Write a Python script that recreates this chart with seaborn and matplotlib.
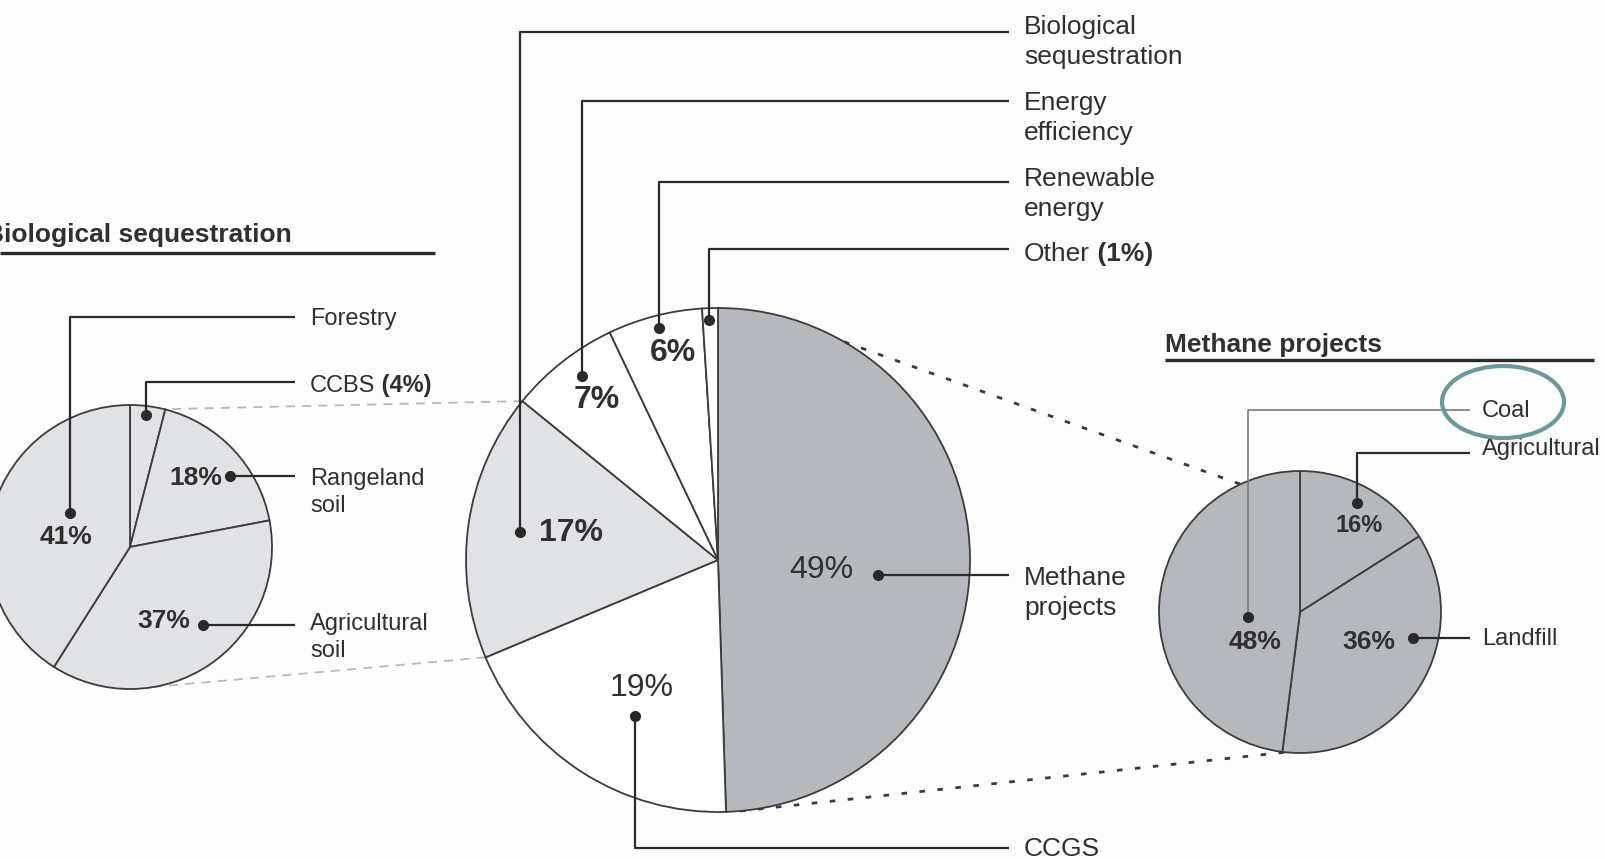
import matplotlib
matplotlib.use("Agg")
import matplotlib.pyplot as plt
from matplotlib.patches import Ellipse
import numpy as np
import seaborn as sns

# ---- data -------------------------------------------------------------
main_labels = ["Methane\nprojects", "CCGS", "Biological\nsequestration",
               "Energy\nefficiency", "Renewable\nenergy", "Other"]
main_values = [49, 19, 17, 7, 6, 1]

bio_labels = ["CCBS", "Rangeland\nsoil", "Agricultural\nsoil", "Forestry"]
bio_values = [4, 18, 37, 41]

methane_labels = ["Agricultural", "Landfill", "Coal"]
methane_values = [16, 36, 48]

# ---- style ------------------------------------------------------------
sns.set_theme(style="white")
plt.rcParams["font.family"] = ["Liberation Sans", "DejaVu Sans"]

W, H = 1606, 859
INK = "#2a2a2a"
TXT = "#303030"
EDGE = "#3c3c3c"
DARK = "#b5b8bc"
LIGHT = "#e0e2e6"
BG = "#fdfdfd"

fig = plt.figure(figsize=(W / 100, H / 100), dpi=100, facecolor=BG)
ax = fig.add_axes([0, 0, 1, 1])
ax.set_facecolor(BG)


def P(x, y):
    """Pixel position measured from the top-left corner -> data coords."""
    return x, H - y


def on_rim(c, r, theta_deg):
    """Point on a pie rim, angle measured clockwise from 12 o'clock."""
    t = np.deg2rad(theta_deg)
    return c[0] + r * np.sin(t), c[1] - r * np.cos(t)


def boundary_angle(values, k):
    """Clockwise angle (deg) at the end of the k-th wedge."""
    v = np.asarray(values, float)
    return 360.0 * v[: k + 1].sum() / v.sum()


wedge_kw = dict(edgecolor=EDGE, linewidth=1.3)

# ---- pies -------------------------------------------------------------
C_MAIN, R_MAIN = (718, 560), 252
C_BIO, R_BIO = (130, 547), 142
C_MET, R_MET = (1300, 612), 141

ax.pie(main_values, colors=[DARK, "white", LIGHT, "white", "white", "white"],
       startangle=90, counterclock=False, center=P(*C_MAIN), radius=R_MAIN,
       wedgeprops=wedge_kw)
ax.pie(bio_values, colors=[LIGHT] * len(bio_values),
       startangle=90, counterclock=False, center=P(*C_BIO), radius=R_BIO,
       wedgeprops=wedge_kw)
ax.pie(methane_values, colors=[DARK] * len(methane_values),
       startangle=90, counterclock=False, center=P(*C_MET), radius=R_MET,
       wedgeprops=wedge_kw)

# ---- connectors between the pies -------------------------------------
# biological sequestration wedge -> left breakdown pie
a_top = boundary_angle(main_values, 2)
a_bot = boundary_angle(main_values, 1)
for src, dst in [(on_rim(C_MAIN, R_MAIN, a_top), on_rim(C_BIO, R_BIO, 14)),
                 (on_rim(C_MAIN, R_MAIN, a_bot), on_rim(C_BIO, R_BIO, 170))]:
    xs, ys = zip(P(*src), P(*dst))
    ax.plot(xs, ys, color="#b8b8b8", lw=1.3, ls=(0, (5, 4)), zorder=0)

# methane wedge -> right breakdown pie
for src, dst in [(on_rim(C_MAIN, R_MAIN, 30), on_rim(C_MET, R_MET, -25)),
                 (on_rim(C_MAIN, R_MAIN, 175), on_rim(C_MET, R_MET, 186))]:
    xs, ys = zip(P(*src), P(*dst))
    ax.plot(xs, ys, color="#3a3a3a", lw=2.0, ls=(0, (2, 4.5)), zorder=0)


# ---- helpers for leader lines ----------------------------------------
def dot(x, y):
    ax.plot(*P(x, y), "o", ms=7, color=INK, zorder=5)


def seg(pts, color=INK, lw=1.6):
    xs, ys = zip(*[P(*p) for p in pts])
    ax.plot(xs, ys, color=color, lw=lw, solid_capstyle="butt", zorder=4)


def label(x, base, s, size=19, gap=30, **kw):
    """Write a (possibly multi-line) label; base is the first line's baseline."""
    first = None
    for i, line in enumerate(s.split("\n")):
        t = ax.text(*P(x, base + i * gap), line, fontsize=size, color=TXT,
                    va="baseline", ha="left", **kw)
        first = first or t
    return first


def pct(x, y, v, size=23, weight="normal", ha="center"):
    ax.text(*P(x, y), f"{v}%", fontsize=size, color=TXT, fontweight=weight,
            ha=ha, va="center", zorder=6)


# ---- main pie annotations --------------------------------------------
XL, XT = 1009, 1024
# biological sequestration
seg([(520, 532), (520, 32), (XL, 32)])
dot(520, 532)
pct(539, 533, main_values[2], weight="bold", ha="left")
label(XT, 34, main_labels[2])
# energy efficiency
seg([(582, 376), (582, 101), (XL, 101)])
dot(582, 376)
pct(597, 400, main_values[3], weight="bold")
label(XT, 110, main_labels[3])
# renewable energy
seg([(659, 328), (659, 182), (XL, 182)])
dot(659, 328)
pct(673, 353, main_values[4], weight="bold")
label(XT, 186, main_labels[4])
# other
seg([(709, 320), (709, 249), (XL, 249)])
dot(709, 320)
t_other = label(XT, 261, main_labels[5])
ax.annotate(f" ({main_values[5]}%)", xy=(1, 0), xycoords=t_other,
            fontsize=19, fontweight="bold", color=TXT, va="bottom", ha="left")
# methane projects
seg([(878, 575), (XL, 575)])
dot(878, 575)
pct(821, 570, main_values[0])
label(XT, 585, main_labels[0])
# CCGS
seg([(635, 716), (635, 848), (XL, 848)])
dot(635, 716)
pct(642, 688, main_values[1])
label(XT, 856, main_labels[1])

# ---- biological sequestration breakdown ------------------------------
ax.text(*P(-15, 242), "Biological sequestration", fontsize=19,
        fontweight="bold", color=TXT, va="baseline", ha="left")
seg([(0, 253), (435, 253)], lw=2.4)

BL, BT = 295, 310
# forestry
seg([(70, 513), (70, 317), (BL, 317)])
dot(70, 513)
pct(66, 537, bio_values[3], size=19, weight="bold")
label(BT, 325, bio_labels[3], size=17)
# CCBS
seg([(146, 415), (146, 382), (BL, 382)])
dot(146, 415)
t_ccbs = label(BT, 392, bio_labels[0], size=17)
ax.annotate(f" ({bio_values[0]}%)", xy=(1, 0), xycoords=t_ccbs,
            fontsize=17, fontweight="bold", color=TXT, va="bottom", ha="left")
# rangeland soil
seg([(230, 476), (BL, 476)])
dot(230, 476)
pct(196, 478, bio_values[1], size=19, weight="bold")
label(BT, 485, bio_labels[1], size=17, gap=27)
# agricultural soil
seg([(203, 625), (BL, 625)])
dot(203, 625)
pct(164, 621, bio_values[2], size=19, weight="bold")
label(BT, 630, bio_labels[2], size=17, gap=27)

# ---- methane projects breakdown --------------------------------------
ax.text(*P(1165, 352), "Methane projects", fontsize=19, fontweight="bold",
        color=TXT, va="baseline", ha="left")
seg([(1165, 360), (1594, 360)], lw=2.4)

ML, MT = 1470, 1482
# coal
seg([(1248, 617), (1248, 410), (ML, 410)], color="#7a7a7a", lw=1.2)
dot(1248, 617)
pct(1255, 642, methane_values[2], size=19, weight="bold")
label(MT, 417, methane_labels[2], size=17)
ax.add_patch(Ellipse(P(1503, 402), 122, 72, fill=False,
                     edgecolor="#6b9999", lw=3.0, zorder=7))
# agricultural
seg([(1357, 503), (1357, 453), (ML, 453)])
dot(1357, 503)
pct(1359, 525, methane_values[0], size=17, weight="bold")
label(MT, 455, methane_labels[0], size=17)
# landfill
seg([(1413, 638), (ML, 638)])
dot(1413, 638)
pct(1369, 642, methane_values[1], size=19, weight="bold")
label(MT, 645, methane_labels[1], size=17)

ax.set_xlim(0, W)
ax.set_ylim(0, H)
ax.set_aspect("equal")
ax.axis("off")

fig.savefig("out.png", dpi=100, facecolor=BG)
